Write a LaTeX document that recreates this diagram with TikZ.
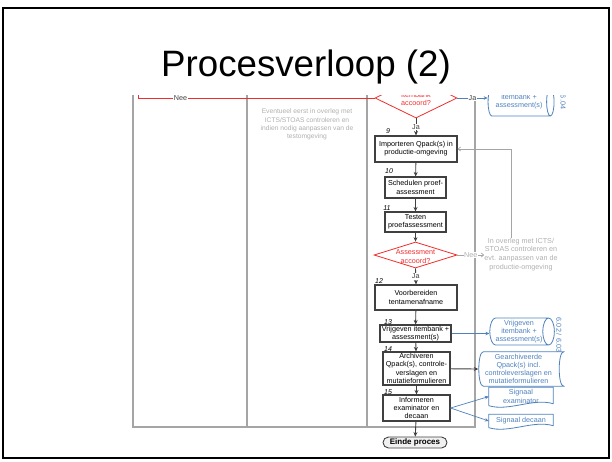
\documentclass[tikz,border=0pt]{standalone}
\usepackage{fontspec}
\setmainfont{Liberation Sans}
\usetikzlibrary{shapes.geometric,arrows.meta}
\definecolor{baangrijs}{RGB}{165,165,165}
\definecolor{notitiegrijs}{RGB}{175,175,175}
\definecolor{randgrijs}{RGB}{64,64,64}
\definecolor{beslisrood}{RGB}{240,45,45}
\definecolor{opslagblauw}{RGB}{79,129,189}
\tikzset{
    stap/.style={draw=randgrijs,line width=1.1pt,align=center,inner sep=1pt},
    beslis/.style={draw=beslisrood,line width=0.8pt,shape=diamond,inner sep=0pt},
    beslistekst/.style={text=beslisrood,align=center,inner sep=0pt},
    opslag/.style={draw=opslagblauw,line width=0.8pt,shape=cylinder,aspect=0.5,
        text=opslagblauw,align=center,inner sep=0pt},
    blauwtekst/.style={text=opslagblauw,align=center,inner sep=0pt},
    blauwlijn/.style={draw=opslagblauw,line width=0.8pt},
    notitie/.style={text=notitiegrijs,align=center,inner sep=0pt},
    nummer/.style={font=\fontsize{7}{8}\selectfont\itshape,inner sep=0pt},
    einde/.style={draw=randgrijs,line width=0.9pt,fill=black!6,rounded corners=5.5pt,
        font=\fontsize{8}{9}\selectfont\bfseries,inner sep=0pt},
    pijl/.style={-{Stealth[length=4.5pt,width=4pt]},line width=0.9pt,draw=randgrijs},
    blauwpijl/.style={-{Stealth[length=4pt,width=3.5pt]},line width=0.7pt,draw=opslagblauw},
    grijspijl/.style={-{Straight Barb[length=2.5pt,width=4pt]},line width=0.7pt,draw=baangrijs},
    roodlijn/.style={draw=beslisrood,line width=0.8pt},
    lbl/.style={fill=white,inner sep=0.6pt,text=randgrijs},
    baan/.style={draw=baangrijs,line width=1.2pt}
}
\begin{document}
\begin{tikzpicture}[x=1pt,y=-1pt,font=\fontsize{7.2}{8.2}\selectfont]
    \useasboundingbox (0,0) rectangle (612,461);
    \draw[line width=2pt] (3,8) rectangle (609,458);
    \node[inner sep=0pt] at (306,67) (titel) {\fontsize{36.7}{40}\selectfont Procesverloop (2)};

    \begin{scope}
    \clip (0,95) rectangle (612,461);
    \draw[baan] (133,80) -- (133,427) -- (475,427) -- (475,80);
    \draw[baan] (247,80) -- (247,427);
    \draw[baan] (367,80) -- (367,427);

    \node[notitie,font=\fontsize{6.7}{8.3}\selectfont] at (307,124.5) (a1) {Eventueel eerst in overleg met\\ICTS/STOAS controleren en\\indien nodig aanpassen van de\\testomgeving};

    \node[beslis,minimum width=82,minimum height=40] at (416,98) (d1) {};
    \node[beslistekst] at (416,99) (d1t) {Itembank\\accoord?};
    \node[opslag,minimum width=28,minimum height=66] at (519,102) (c1) {itembank +\\assessment(s)};
    \node[blauwtekst,rotate=-90] at (563,102) (v1) {6.04};
    \coordinate (terug) at (138,80);

    \node[nummer] at (388,131) (n9) {9};
    \node[stap,minimum width=82,minimum height=26] at (416,149) (b9) {Importeren Qpack(s) in\\productie-omgeving};
    \node[nummer] at (389,171) (n10) {10};
    \node[stap,minimum width=61,minimum height=21] at (415.5,187.5) (b10) {Schedulen proef-\\assessment};
    \node[nummer] at (387,208) (n11) {11};
    \node[stap,minimum width=61,minimum height=20] at (415.5,222) (b11) {Testen\\proefassessment};
    \node[beslis,minimum width=83,minimum height=26] at (415.5,255) (d2) {};
    \node[beslistekst] at (415.5,256.5) (d2t) {Assessment\\accoord?};
    \node[notitie,font=\fontsize{7.2}{8.8}\selectfont] at (521,254.5) (a2) {In overleg met ICTS/\\STOAS controleren en\\evt. aanpassen van de\\productie-omgeving};
    \node[nummer] at (379,281) (n12) {12};
    \node[stap,minimum width=82,minimum height=25] at (416,297.5) (b12) {Voorbereiden\\tentamenafname};
    \node[nummer] at (388,322) (n13) {13};
    \node[stap,minimum width=71,minimum height=17] at (415.5,333.5) (b13) {Vrijgeven itembank +\\assessment(s)};
    \node[opslag,minimum width=27,minimum height=63] at (519,331.5) (c13) {Vrijgeven\\itembank +\\assessment(s)};
    \node[blauwtekst,rotate=-90] at (559,335) (v13) {6.02 / 6.03};
    \node[nummer] at (388,349) (n14) {14};
    \node[stap,minimum width=67,minimum height=33] at (416.5,368.5) (b14) {Archiveren\\Qpack(s), controle-\\verslagen en\\mutatieformulieren};
    \node[blauwtekst,minimum width=80,minimum height=34] at (518.5,369) (g14) {Gearchiveerde\\Qpack(s) incl.\\controleverslagen en\\mutatieformulieren};
    \draw[blauwlijn] ([xshift=5pt]g14.north west) -- ([xshift=5pt]g14.north east)
        .. controls ([xshift=-1pt]g14.north east) and ([xshift=-1pt]g14.south east) .. ([xshift=5pt]g14.south east)
        -- ([xshift=5pt]g14.south west)
        .. controls ([xshift=-1pt]g14.south west) and ([xshift=-1pt]g14.north west) .. cycle;
    \node[nummer] at (388,392) (n15) {15};
    \node[stap,minimum width=67,minimum height=26] at (416.5,408) (b15) {Informeren\\examinator en\\decaan};
    \node[blauwtekst,minimum width=64,minimum height=18] at (521,396.5) (sx) {Signaal\\examinator};
    \draw[blauwlijn] (sx.south west) |- (sx.north east) -- ([yshift=2pt]sx.south east)
        .. controls +(-20,-6) and +(20,6) .. (sx.south west);
    \node[blauwtekst,minimum width=64,minimum height=13] at (521,421) (sd) {Signaal decaan};
    \draw[blauwlijn] (sd.south west) |- (sd.north east) -- ([yshift=2pt]sd.south east)
        .. controls +(-20,-6) and +(20,6) .. (sd.south west);
    \node[einde,minimum width=64,minimum height=11] at (415,442.5) (eind) {Einde proces};

    \draw[roodlijn] (d1.west) -| node[lbl,pos=0.41] (nee1) {Nee} (terug);
    \draw[blauwpijl] (d1.east) -- node[lbl] (ja1) {Ja} (d1.east -| c1.west);
    \draw[pijl] (d1.south) -- node[lbl] (ja1b) {Ja} (b9.north);
    \draw[pijl] (b9) -- (b10);
    \draw[pijl] (b10) -- (b11);
    \draw[pijl] (b11) -- (d2.north);
    \draw[grijspijl] (d2.east) -- node[lbl,text=notitiegrijs] (nee2) {Nee} (d2.east -| a2.west);
    \draw[grijspijl] ([xshift=-10pt]a2.north) |- (b9.east);
    \draw[pijl] (d2.south) -- node[lbl] (ja2) {Ja} (b12.north);
    \draw[pijl] (b12) -- (b13);
    \draw[blauwpijl] (b13.east) -- (b13.east -| c13.west);
    \draw[pijl] (b13) -- (b14);
    \draw[pijl] (b14) -- (g14.west);
    \draw[pijl] (b14) -- (b15);
    \draw[blauwpijl] (b15.east) -- (sx.west);
    \draw[blauwpijl] (b15.east) -- (sd.west);
    \draw[pijl] (b15) -- (eind);
    \end{scope}
\end{tikzpicture}
\end{document}
